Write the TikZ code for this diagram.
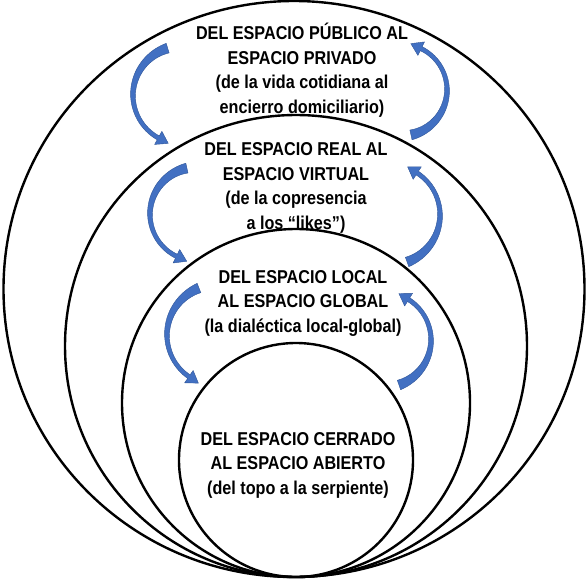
\documentclass[tikz,border=0pt]{standalone}
\usepackage{fontspec}
\setmainfont{Liberation Sans}[FakeStretch=0.87]
\definecolor{arrowblue}{RGB}{66,112,194}
\definecolor{arrowdark}{RGB}{47,85,151}
\tikzset{
  ring/.style={line width=2.4pt, draw=black},
  lbl/.style={anchor=base, inner sep=0pt, font=\fontsize{18.6}{24.5}\selectfont\bfseries},
  arrowfill/.style={fill=arrowblue, draw=arrowdark, line width=0.4pt, line join=round},
  declare function={uu(\x,\y,\z)=(\x-\z)/(\y-\z); ww(\x,\y,\z)=4.8+2.6*uu(\x,\y,\z)+2.6*uu(\x,\y,\z)*uu(\x,\y,\z);}
}
% #1 cx, #2 cy, #3 r, #4 tail angle, #5 head angle, #6 middle angle (image coordinates)
\newcommand\curvarr[6]{%
  \path[arrowfill]
    plot[domain=#4:#5, samples=40, variable=\t]
      ({#1+(#3+0.5*ww(\t,#4,#6))*cos(\t)}, {#2+(#3+0.5*ww(\t,#4,#6))*sin(\t)})
    -- ({#1+(#3+7.5)*cos(#5)}, {#2+(#3+7.5)*sin(#5)})
    -- ({#1+#3*cos(#5)+11.5*sin(#5)}, {#2+#3*sin(#5)-11.5*cos(#5)})
    -- ({#1+(#3-7.5)*cos(#5)}, {#2+(#3-7.5)*sin(#5)})
    -- plot[domain=#5:#4, samples=40, variable=\t]
      ({#1+(#3-0.5*ww(\t,#4,#6))*cos(\t)}, {#2+(#3-0.5*ww(\t,#4,#6))*sin(\t)})
    -- cycle;}
\begin{document}
\begin{tikzpicture}[x=1pt, y=-1pt]
\useasboundingbox (0,0) rectangle (588,578);
% rings, all touching at the bottom
\draw[ring] (294,289) ellipse [x radius=290.5, y radius=288];
\draw[ring] (296,346) circle [radius=231];
\draw[ring] (296,403) circle [radius=174];
\draw[ring] (296,460) circle [radius=117];
% curved arrows
\curvarr{182}{95}{49}{253}{119}{180}
\curvarr{401}{90}{46}{77.5}{-64}{0}
\curvarr{197}{214}{47}{257.6}{116}{180}
\curvarr{390}{215}{50}{70}{-57}{0}
\curvarr{217.5}{335}{50.5}{248.5}{124.5}{180}
\curvarr{383.4}{340}{47.6}{70.9}{-58}{0}
% texts
\node[lbl] (t1) at (302,39.7) {\begin{tabular}[t]{@{}c@{}}DEL ESPACIO PÚBLICO AL\\ESPACIO PRIVADO\\(de la vida cotidiana al\\encierro domiciliario)\end{tabular}};
\node[lbl] (t2) at (296,155.7) {\begin{tabular}[t]{@{}c@{}}DEL ESPACIO REAL AL\\ESPACIO VIRTUAL\\(de la copresencia\\a los “likes”)\end{tabular}};
\node[lbl] (t3) at (303,283.3) {\begin{tabular}[t]{@{}c@{}}DEL ESPACIO LOCAL\\AL ESPACIO GLOBAL\\(la dialéctica local-global)\end{tabular}};
\node[lbl] (t4) at (298,445) {\begin{tabular}[t]{@{}c@{}}DEL ESPACIO CERRADO\\AL ESPACIO ABIERTO\\(del topo a la serpiente)\end{tabular}};
\end{tikzpicture}
\end{document}
